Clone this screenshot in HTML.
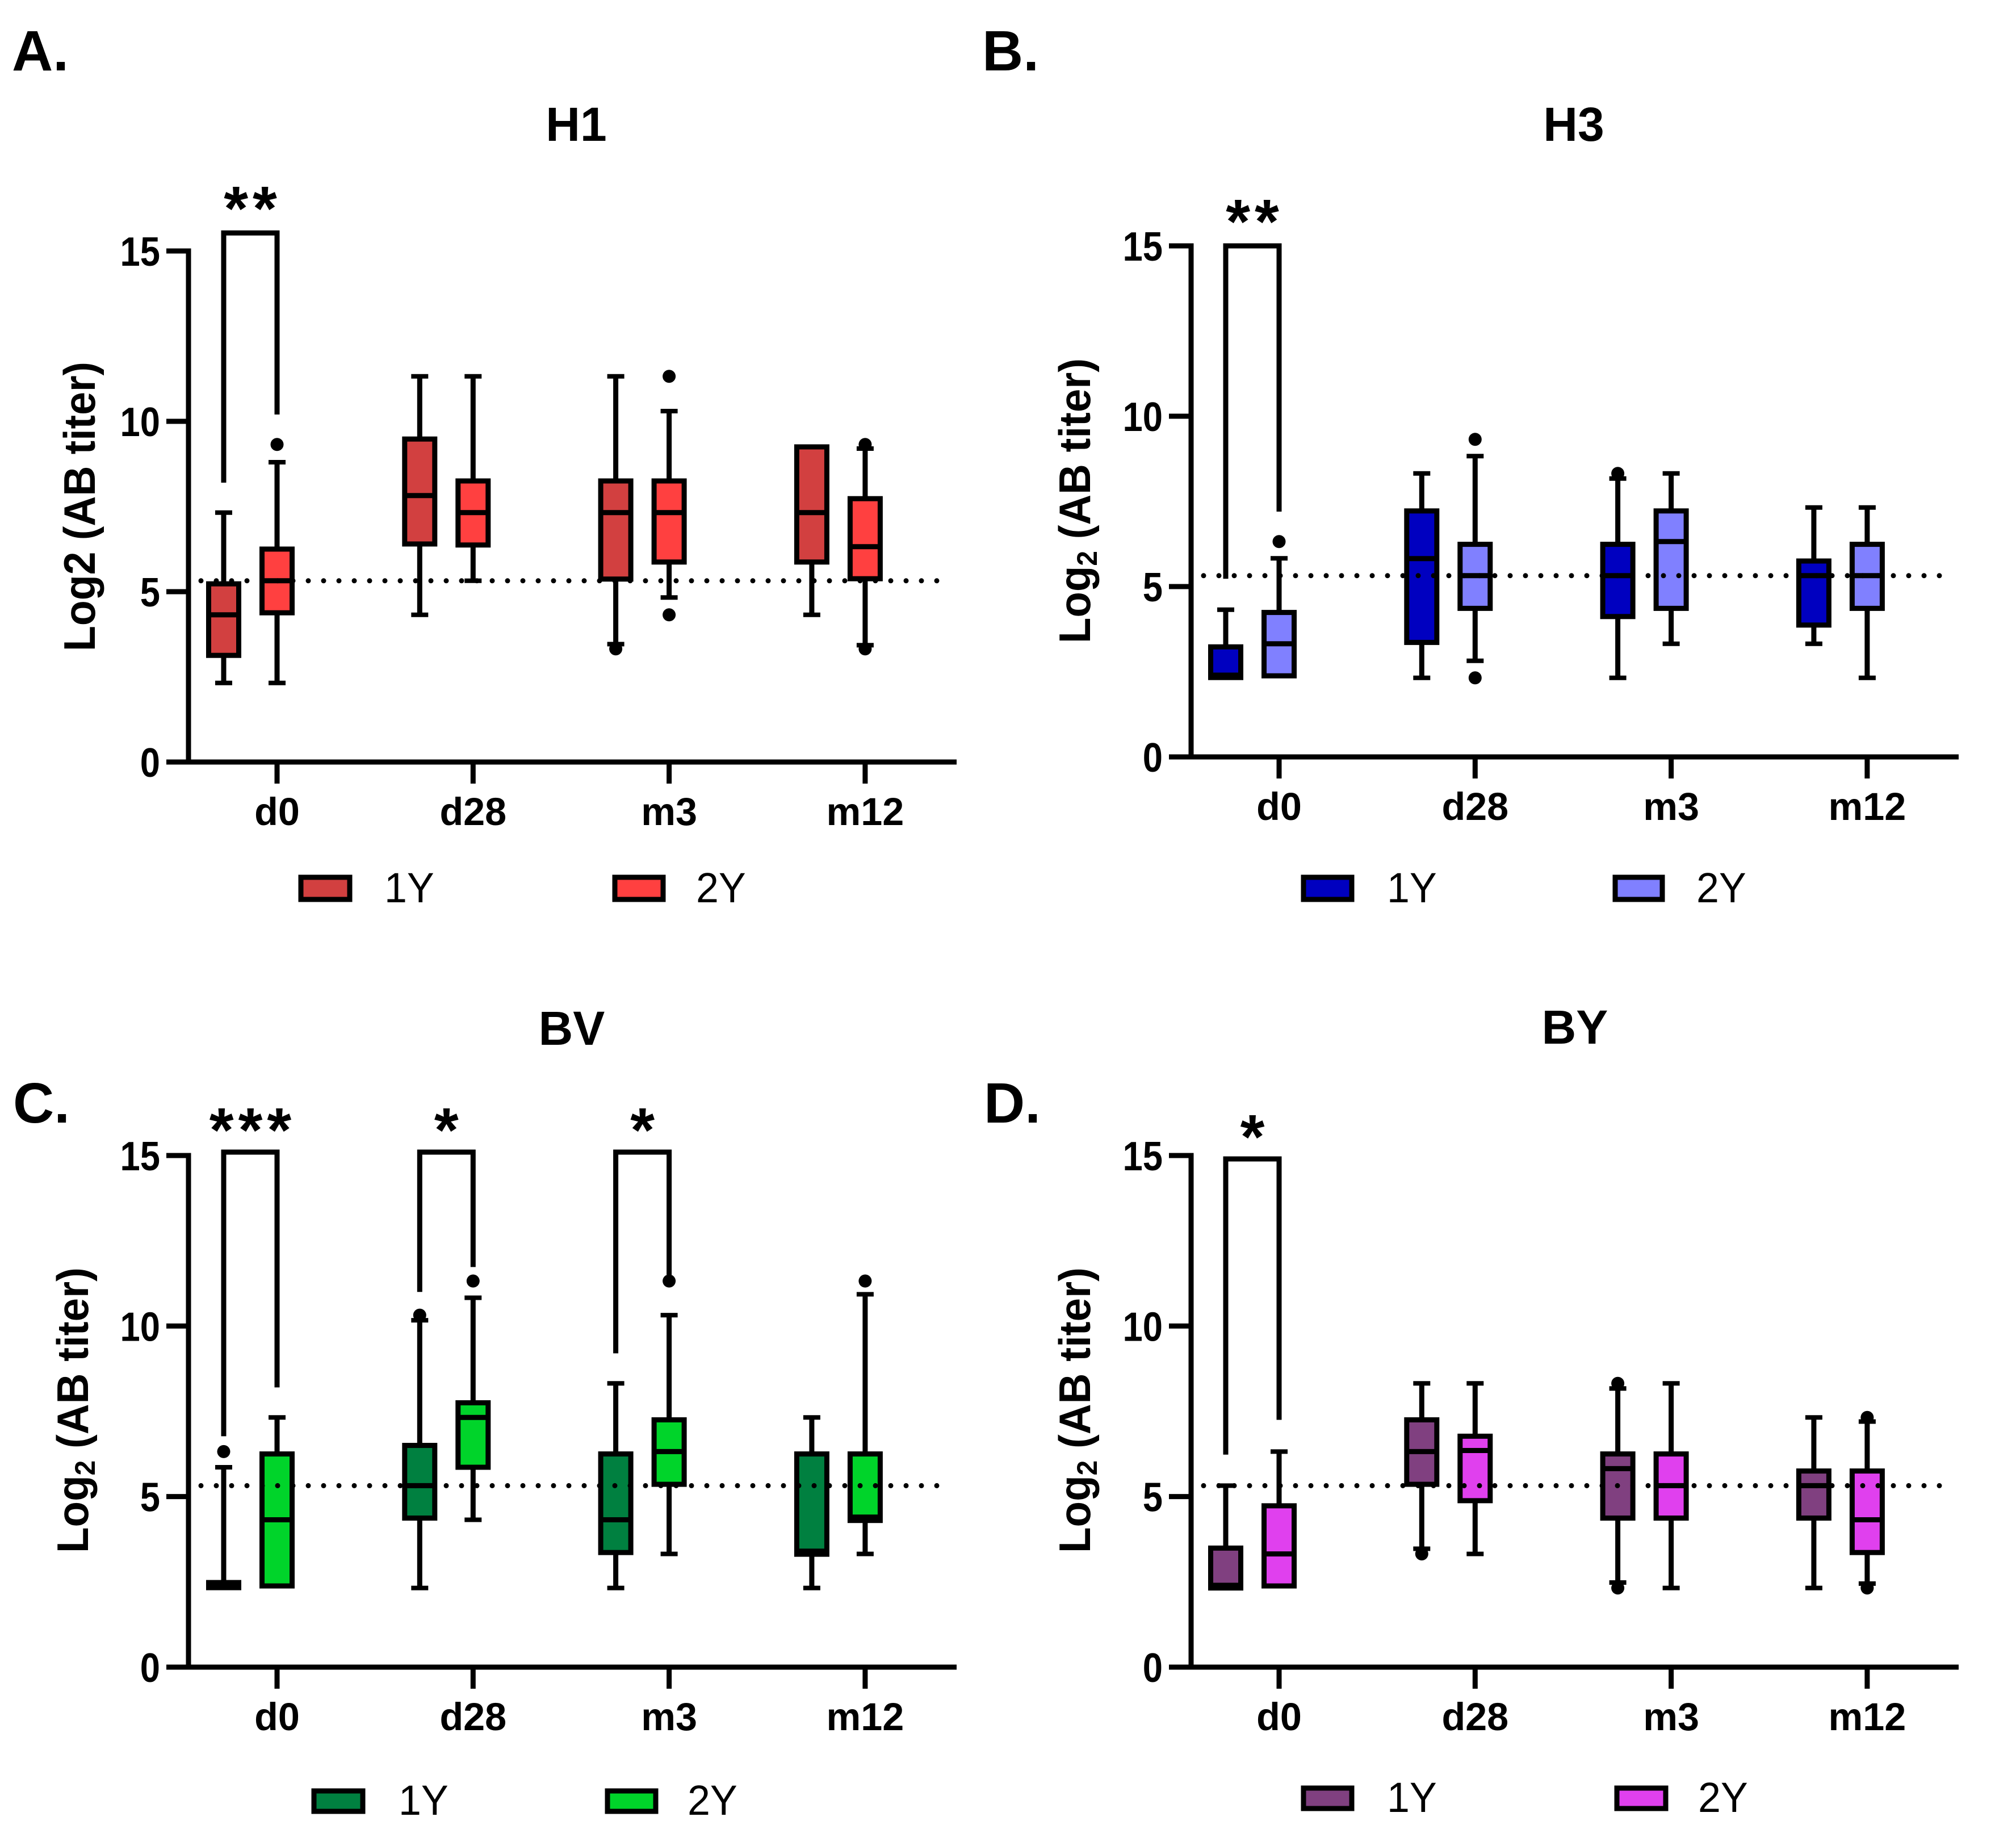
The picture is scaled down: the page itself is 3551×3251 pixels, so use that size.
<!DOCTYPE html>
<html lang="en">
<head>
<meta charset="utf-8">
<title>Log2 antibody titers for H1, H3, BV and BY</title>
<style>
html,body{margin:0;padding:0;background:#fff;}
svg{display:block;}
text{font-family:"Liberation Sans",sans-serif;fill:#000;}
.b{font-weight:700;}
.panel-letter{font-size:100px;font-weight:700;}
.title{font-size:84px;font-weight:700;text-anchor:middle;}
.ytitle{font-size:78px;font-weight:700;}
.leg{font-size:74px;}
.sw{stroke:#000;stroke-width:9;}
</style>
</head>
<body>
<svg id="figure" xmlns="http://www.w3.org/2000/svg" width="3551" height="3251" viewBox="0 0 3551 3251">
<rect width="3551" height="3251" fill="#fff"/>

<text class="panel-letter" x="21" y="124">A.</text>
<text class="panel-letter" x="1730" y="124">B.</text>
<text class="panel-letter" x="23" y="1977">C.</text>
<text class="panel-letter" x="1733" y="1977">D.</text>

<text class="title" x="1015" y="248">H1</text>
<text class="title" x="2772" y="248">H3</text>
<text class="title" x="1007" y="1840">BV</text>
<text class="title" x="2774" y="1838">BY</text>

<text class="ytitle" transform="translate(167,1147) rotate(-90)" textLength="510" lengthAdjust="spacingAndGlyphs">Log2 (AB titer)</text>
<text class="ytitle" transform="translate(1920,1133) rotate(-90)" textLength="502" lengthAdjust="spacingAndGlyphs">Log<tspan font-size="50" dy="12">2</tspan><tspan dy="-12"> (AB titer)</tspan></text>
<text class="ytitle" transform="translate(155,2735) rotate(-90)" textLength="503" lengthAdjust="spacingAndGlyphs">Log<tspan font-size="50" dy="12">2</tspan><tspan dy="-12"> (AB titer)</tspan></text>
<text class="ytitle" transform="translate(1920,2735) rotate(-90)" textLength="503" lengthAdjust="spacingAndGlyphs">Log<tspan font-size="50" dy="12">2</tspan><tspan dy="-12"> (AB titer)</tspan></text>

<g>
<rect class="sw" x="530" y="1545" width="86" height="39" fill="#d24040"/>
<text class="leg" transform="translate(677,1589) scale(.97,1)">1Y</text>
<rect class="sw" x="1083" y="1545" width="85" height="39" fill="#ff4040"/>
<text class="leg" transform="translate(1226,1589) scale(.97,1)">2Y</text>
</g>
<g>
<rect class="sw" x="2296" y="1545" width="85" height="39" fill="#0000c0"/>
<text class="leg" transform="translate(2443,1589) scale(.97,1)">1Y</text>
<rect class="sw" x="2845" y="1545" width="83" height="39" fill="#8080ff"/>
<text class="leg" transform="translate(2988,1589) scale(.97,1)">2Y</text>
</g>
<g>
<rect class="sw" x="553" y="3154" width="86" height="36" fill="#008040"/>
<text class="leg" transform="translate(702,3196) scale(.97,1)">1Y</text>
<rect class="sw" x="1070" y="3154" width="85" height="36" fill="#00d42a"/>
<text class="leg" transform="translate(1211,3196) scale(.97,1)">2Y</text>
</g>
<g>
<rect class="sw" x="2296" y="3149" width="85" height="36" fill="#804080"/>
<text class="leg" transform="translate(2443,3191) scale(.97,1)">1Y</text>
<rect class="sw" x="2848" y="3149" width="86" height="36" fill="#e040ee"/>
<text class="leg" transform="translate(2991,3191) scale(.97,1)">2Y</text>
</g>
</svg>

<script>
const categories = ['d0', 'd28', 'm3', 'm12'];
const yTickValues = [0, 5, 10, 15];
const yTickLabels = ['0', '5', '10', '15'];
const thresholdValue = 5.32;

const h1_1Y_low = [2.32, 4.32, 3.46, 4.32];
const h1_1Y_q1 = [3.13, 6.4, 5.37, 5.87];
const h1_1Y_med = [4.32, 7.82, 7.32, 7.32];
const h1_1Y_q3 = [5.23, 9.48, 8.25, 9.25];
const h1_1Y_high = [7.32, 11.32, 11.32, 9.25];
const h1_1Y_out = [[], [], [3.32], []];
const h1_2Y_low = [2.32, 5.32, 4.83, 3.43];
const h1_2Y_q1 = [4.38, 6.37, 5.87, 5.38];
const h1_2Y_med = [5.32, 7.32, 7.32, 6.32];
const h1_2Y_q3 = [6.25, 8.25, 8.25, 7.73];
const h1_2Y_high = [8.8, 11.32, 10.3, 9.2];
const h1_2Y_out = [[9.32], [], [11.32, 4.32], [9.32, 3.32]];

const h3_1Y_low = [2.33, 2.32, 2.32, 3.32];
const h3_1Y_q1 = [2.33, 3.36, 4.12, 3.87];
const h3_1Y_med = [2.4, 5.82, 5.32, 5.32];
const h3_1Y_q3 = [3.23, 7.22, 6.24, 5.75];
const h3_1Y_high = [4.32, 8.32, 8.17, 7.32];
const h3_1Y_out = [[], [], [8.32], []];
const h3_2Y_low = [2.38, 2.82, 3.32, 2.32];
const h3_2Y_q1 = [2.38, 4.36, 4.36, 4.36];
const h3_2Y_med = [3.32, 5.32, 6.32, 5.32];
const h3_2Y_q3 = [4.24, 6.24, 7.22, 6.24];
const h3_2Y_high = [5.83, 8.83, 8.32, 7.32];
const h3_2Y_out = [[6.32], [9.32, 2.32], [], []];

const bv_1Y_low = [2.33, 2.32, 2.32, 2.32];
const bv_1Y_q1 = [2.33, 4.37, 3.36, 3.31];
const bv_1Y_med = [2.4, 5.32, 4.32, 3.4];
const bv_1Y_q3 = [2.48, 6.5, 6.25, 6.25];
const bv_1Y_high = [5.86, 10.17, 8.32, 7.32];
const bv_1Y_out = [[6.32], [10.32], [], []];
const bv_2Y_low = [2.38, 4.32, 3.32, 3.32];
const bv_2Y_q1 = [2.38, 5.86, 5.36, 4.3];
const bv_2Y_med = [4.32, 7.32, 6.32, 4.4];
const bv_2Y_q3 = [6.25, 7.75, 7.25, 6.25];
const bv_2Y_high = [7.32, 10.83, 10.32, 10.93];
const bv_2Y_out = [[], [11.32], [11.32], [11.32]];

const by_1Y_low = [2.32, 3.47, 2.48, 2.32];
const by_1Y_q1 = [2.32, 5.36, 4.37, 4.37];
const by_1Y_med = [2.4, 6.32, 5.82, 5.32];
const by_1Y_q3 = [3.49, 7.25, 6.25, 5.75];
const by_1Y_high = [5.32, 8.32, 8.17, 7.32];
const by_1Y_out = [[], [3.32], [8.32, 2.32], []];
const by_2Y_low = [2.38, 3.32, 2.32, 2.45];
const by_2Y_q1 = [2.38, 4.88, 4.37, 3.36];
const by_2Y_med = [3.32, 6.35, 5.32, 4.32];
const by_2Y_q3 = [4.73, 6.77, 6.25, 5.75];
const by_2Y_high = [6.32, 8.32, 8.32, 7.2];
const by_2Y_out = [[], [], [], [7.32, 2.32]];

const h1SigCategory = [0];
const h1SigLabel = ['**'];
const h1SigTop = [15.53];
const h1SigLeftEnd = [8.2];
const h1SigRightEnd = [10.2];

const h3SigCategory = [0];
const h3SigLabel = ['**'];
const h3SigTop = [15];
const h3SigLeftEnd = [5.23];
const h3SigRightEnd = [7.2];

const bvSigCategory = [0, 1, 2];
const bvSigLabel = ['***', '*', '*'];
const bvSigTop = [15.1, 15.1, 15.1];
const bvSigLeftEnd = [6.77, 11, 9.2];
const bvSigRightEnd = [8.2, 11.73, 11.5];

const bySigCategory = [0];
const bySigLabel = ['*'];
const bySigTop = [14.9];
const bySigLeftEnd = [6.23];
const bySigRightEnd = [7.25];

const svg = document.getElementById('figure');
const NS = 'http://www.w3.org/2000/svg';

function make(tag, attrs, parent) {
  const node = document.createElementNS(NS, tag);
  for (const k in attrs) node.setAttribute(k, attrs[k]);
  parent.appendChild(node);
  return node;
}
function line(parent, x1, y1, x2, y2, w) {
  return make('line', {x1: x1, y1: y1, x2: x2, y2: y2, stroke: '#000', 'stroke-width': w}, parent);
}

function drawSeries(g, key, xOf, yOf, sLow, sQ1, sMed, sQ3, sHigh, sOut, fill, offset) {
  const BOX = 53;
  const CAP = 30;
  categories.forEach(function (cat, i) {
    const cx = xOf(i) + offset;
    const box = make('g', {}, g);
    
    
    line(box, cx, yOf(sLow[i]), cx, yOf(sHigh[i]), 9);
    line(box, cx - CAP / 2, yOf(sLow[i]), cx + CAP / 2, yOf(sLow[i]), 8);
    line(box, cx - CAP / 2, yOf(sHigh[i]), cx + CAP / 2, yOf(sHigh[i]), 8);
    make('rect', {x: cx - BOX / 2, y: yOf(sQ3[i]), width: BOX, height: yOf(sQ1[i]) - yOf(sQ3[i]), fill: fill, stroke: '#000', 'stroke-width': 9}, box);
    line(box, cx - BOX / 2, yOf(sMed[i]), cx + BOX / 2, yOf(sMed[i]), 9);
    sOut[i].forEach(function (v) {
      make('circle', {cx: cx, cy: yOf(v), r: 11.5, fill: '#000'}, box);
    });
  });
}

function drawPanel(p) {
  const g = make('g', {}, svg);
  
  
  const yOf = function (v) { return p.y0 - v * p.unit; };
  const xOf = function (i) { return p.x0 + i * 345.3; };

  drawSeries(g, p.key + '-1y', xOf, yOf, p.a[0], p.a[1], p.a[2], p.a[3], p.a[4], p.a[5], p.c1, -94);
  drawSeries(g, p.key + '-2y', xOf, yOf, p.b[0], p.b[1], p.b[2], p.b[3], p.b[4], p.b[5], p.c2, 0);

  const yAxis = make('g', {}, g);
  
  
  line(yAxis, p.ax, yOf(15) - 4.5, p.ax, p.y0 + 4.5, 9);
  yTickValues.forEach(function (v, i) {
    line(yAxis, p.ax - 39, yOf(v), p.ax, yOf(v), 9);
    const t = make('text', {'class': 'b', 'font-size': 72, 'text-anchor': 'end', transform: 'translate(' + (p.ax - 50) + ',' + (yOf(v) + 26) + ') scale(.88,1)'}, yAxis);
    t.textContent = yTickLabels[i];
  });

  const xAxis = make('g', {}, g);
  
  
  line(xAxis, p.ax - 39, p.y0, p.xEnd, p.y0, 9);
  categories.forEach(function (cat, i) {
    line(xAxis, xOf(i), p.y0, xOf(i), p.y0 + 38, 9);
    const t = make('text', {'class': 'b', 'font-size': 69, 'text-anchor': 'middle', transform: 'translate(' + xOf(i) + ',' + (p.y0 + 111) + ') scale(.99,1)'}, xAxis);
    t.textContent = cat;
  });

  const ref = line(g, p.ax + 22, yOf(thresholdValue), p.xEnd - 18, yOf(thresholdValue), 9);
  ref.setAttribute('stroke-dasharray', '0 27');
  ref.setAttribute('stroke-linecap', 'round');
  
  

  p.sigCat.forEach(function (c, i) {
    const br = make('g', {}, g);
    
    
    const lx = xOf(c) - 94, rx = xOf(c);
    make('path', {d: 'M' + lx + ' ' + yOf(p.sigLeft[i]) + 'V' + yOf(p.sigTop[i]) + 'H' + rx + 'V' + yOf(p.sigRight[i]), fill: 'none', stroke: '#000', 'stroke-width': 9}, br);
    const s = make('text', {'class': 'b', 'font-size': 110, 'text-anchor': 'middle', 'letter-spacing': 8, x: (lx + rx) / 2 + 4, y: yOf(p.sigTop[i]) + p.starDy}, br);
    s.textContent = p.sigLabel[i];
  });
}

drawPanel({key: 'h1', x0: 488, ax: 332, xEnd: 1685, y0: 1342, unit: 60, c1: '#d24040', c2: '#ff4040', starDy: -5,
  a: [h1_1Y_low, h1_1Y_q1, h1_1Y_med, h1_1Y_q3, h1_1Y_high, h1_1Y_out],
  b: [h1_2Y_low, h1_2Y_q1, h1_2Y_med, h1_2Y_q3, h1_2Y_high, h1_2Y_out],
  sigCat: h1SigCategory, sigLabel: h1SigLabel, sigTop: h1SigTop, sigLeft: h1SigLeftEnd, sigRight: h1SigRightEnd});

drawPanel({key: 'h3', x0: 2253, ax: 2098, xEnd: 3450, y0: 1333, unit: 60, c1: '#0000c0', c2: '#8080ff', starDy: -5,
  a: [h3_1Y_low, h3_1Y_q1, h3_1Y_med, h3_1Y_q3, h3_1Y_high, h3_1Y_out],
  b: [h3_2Y_low, h3_2Y_q1, h3_2Y_med, h3_2Y_q3, h3_2Y_high, h3_2Y_out],
  sigCat: h3SigCategory, sigLabel: h3SigLabel, sigTop: h3SigTop, sigLeft: h3SigLeftEnd, sigRight: h3SigRightEnd});

drawPanel({key: 'bv', x0: 488, ax: 332, xEnd: 1685, y0: 2936, unit: 60.07, c1: '#008040', c2: '#00d42a', starDy: -1,
  a: [bv_1Y_low, bv_1Y_q1, bv_1Y_med, bv_1Y_q3, bv_1Y_high, bv_1Y_out],
  b: [bv_2Y_low, bv_2Y_q1, bv_2Y_med, bv_2Y_q3, bv_2Y_high, bv_2Y_out],
  sigCat: bvSigCategory, sigLabel: bvSigLabel, sigTop: bvSigTop, sigLeft: bvSigLeftEnd, sigRight: bvSigRightEnd});

drawPanel({key: 'by', x0: 2253, ax: 2098, xEnd: 3450, y0: 2936, unit: 60.07, c1: '#804080', c2: '#e040ee', starDy: -1,
  a: [by_1Y_low, by_1Y_q1, by_1Y_med, by_1Y_q3, by_1Y_high, by_1Y_out],
  b: [by_2Y_low, by_2Y_q1, by_2Y_med, by_2Y_q3, by_2Y_high, by_2Y_out],
  sigCat: bySigCategory, sigLabel: bySigLabel, sigTop: bySigTop, sigLeft: bySigLeftEnd, sigRight: bySigRightEnd});
</script>
</body>
</html>
